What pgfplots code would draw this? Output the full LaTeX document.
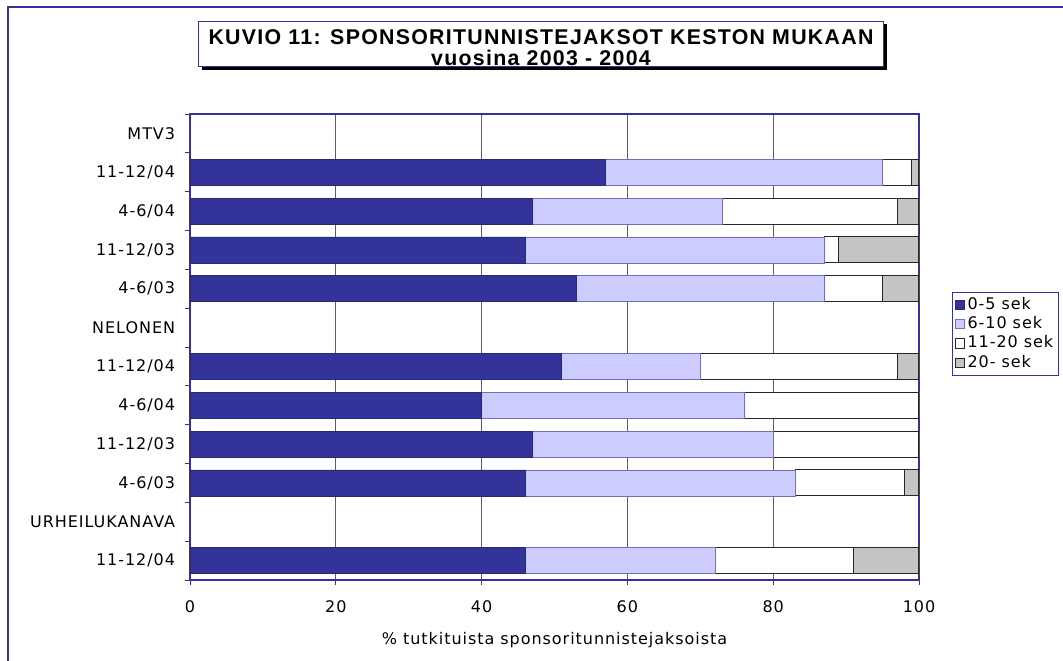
\documentclass[border=0pt]{standalone}
\usepackage{pgfplots}
\pgfplotsset{compat=1.18}
\usepackage{fontspec}
\setmainfont{DejaVu Sans}[LetterSpace=6]
\newfontfamily\titlefont{Liberation Sans}[LetterSpace=6]
\definecolor{dkblue}{HTML}{333399}
\definecolor{ltblue}{HTML}{CCCCFF}
\definecolor{gridblue}{HTML}{5555AA}
\definecolor{hatch}{HTML}{C4C4C4}
\begin{document}
\begin{tikzpicture}
\begin{scope}[x=0.75pt,y=0.75pt]
\path[use as bounding box] (0,0) rectangle (1063,660);
% outer chart frame
\draw[dkblue, line width=0.8pt] (8,-20) -- (8,653) -- (1080,653);
% title box with shadow
\fill[black] (202,590) rectangle (887,636);
\draw[dkblue, fill=white, line width=0.6pt] (198,594) rectangle (883,639);
\node[font=\titlefont\bfseries\fontsize{16}{18}\selectfont] at (541,623) {KUVIO 11: SPONSORITUNNISTEJAKSOT KESTON MUKAAN};
\node[font=\titlefont\bfseries\fontsize{16}{18}\selectfont] at (541,602) {vuosina 2003 - 2004};
\end{scope}
\begin{axis}[
  at={(142.5pt,60pt)}, anchor=south west,
  scale only axis, width=546.75pt, height=349.5pt,
  xbar stacked, bar width=0.67,
  xmin=0, xmax=100, ymin=-0.5, ymax=11.5, y dir=reverse,
  xtick={0,20,...,100},
  ytick={0,...,11},
  yticklabels={MTV3,11-12/04,4-6/04,11-12/03,4-6/03,NELONEN,11-12/04,4-6/04,11-12/03,4-6/03,URHEILUKANAVA,11-12/04},
  minor ytick={-0.5,0.5,...,11.5},
  major tick length=0pt,
  minor tick length=4pt,
  tick align=outside,
  xtick pos=bottom, ytick pos=left,
  xmajorgrids, major grid style={gridblue, line width=0.6pt},
  axis line style={dkblue, line width=0.8pt},
  minor tick style={dkblue, line width=0.6pt},
  extra x ticks={0,20,...,100}, extra x tick labels={},
  extra x tick style={major tick length=4pt, grid=none, tick style={dkblue, line width=0.6pt}},
  ticklabel style={font=\fontsize{12}{14}\selectfont},
  /pgf/number format/assume math mode=true,
  yticklabel style={inner sep=0pt, xshift=-11pt},
  xticklabel style={inner sep=0pt, yshift=-15pt},
  xlabel={\% tutkituista sponsoritunnistejaksoista},
  xlabel style={font=\fontsize{12}{14}\selectfont, inner sep=0pt, yshift=-11pt},
  legend style={at={(1.0453,0.618)}, anchor=north west, draw=dkblue, line width=0.6pt,
    font=\fontsize{12}{14}\selectfont, inner xsep=2pt, inner ysep=3pt, row sep=2pt,
    nodes={inner xsep=1.8pt, inner ysep=0.5pt, text height=9pt, text depth=2.5pt},
    cells={anchor=west}},
  legend image code/.code={\draw[#1, line width=0.5pt] (0pt,-3.5pt) rectangle (7pt,3.5pt);},
  legend cell align=left,
]
\addplot[fill=dkblue, draw=dkblue!80!black, line width=0.5pt] coordinates {(57,1) (47,2) (46,3) (53,4) (51,6) (40,7) (47,8) (46,9) (46,11)};
\addplot[fill=ltblue, draw=dkblue!70, line width=0.5pt] coordinates {(38,1) (26,2) (41,3) (34,4) (19,6) (36,7) (33,8) (37,9) (26,11)};
\addplot[fill=white, draw=black!85, line width=0.8pt] coordinates {(4,1) (24,2) (2,3) (8,4) (27,6) (24,7) (20,8) (15,9) (19,11)};
\addplot[fill=hatch, draw=black!85, line width=0.8pt] coordinates {(1,1) (3,2) (11,3) (5,4) (3,6) (0,7) (0,8) (2,9) (9,11)};
\legend{0-5 sek,6-10 sek,11-20 sek,20- sek}
\end{axis}
\end{tikzpicture}
\end{document}
